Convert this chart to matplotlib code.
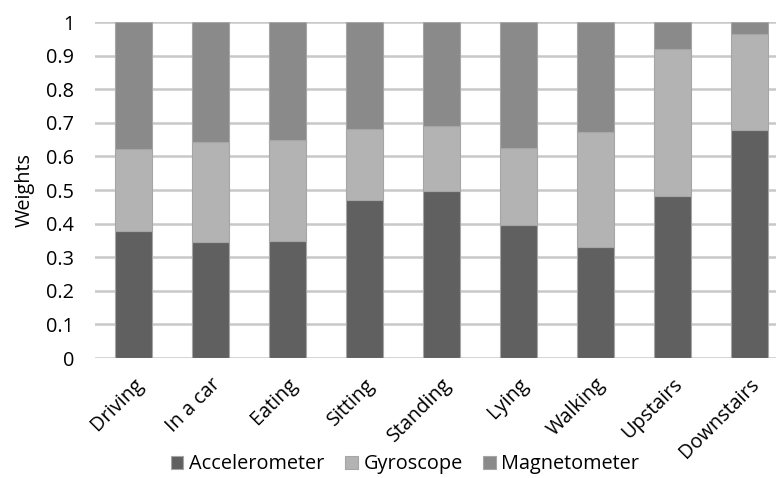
import matplotlib
matplotlib.use("Agg")
import matplotlib.pyplot as plt
import numpy as np

categories = ["Driving", "In a car", "Eating", "Sitting", "Standing", "Lying", "Walking", "Upstairs", "Downstairs"]
accelerometer = [0.378, 0.345, 0.349, 0.470, 0.498, 0.396, 0.329, 0.482, 0.679]
acc_plus_gyro = [0.623, 0.642, 0.649, 0.682, 0.689, 0.626, 0.672, 0.921, 0.964]
gyroscope = [c - a for a, c in zip(accelerometer, acc_plus_gyro)]
magnetometer = [1 - c for c in acc_plus_gyro]
yticks = [0, 0.1, 0.2, 0.3, 0.4, 0.5, 0.6, 0.7, 0.8, 0.9, 1]

plt.rcParams['font.family'] = ['Open Sans', 'DejaVu Sans']

fig = plt.figure(figsize=(7.76, 4.78), dpi=100)
ax = fig.add_axes([95/776, 1-358/478, 1-95/776, (358-22)/478])

x = np.arange(len(categories))
w = 0.48
ec = '#a6a6a6'
ax.bar(x, accelerometer, w, color='#606060', edgecolor=ec, linewidth=0.8, label='Accelerometer', zorder=3)
ax.bar(x, gyroscope, w, bottom=accelerometer, color='#b3b3b3', edgecolor=ec, linewidth=0.8, label='Gyroscope', zorder=3)
ax.bar(x, magnetometer, w, bottom=acc_plus_gyro, color='#8a8a8a', edgecolor=ec, linewidth=0.8, label='Magnetometer', zorder=3)

fs = 14.3
ax.set_xlim(-0.5, -0.5 + 681/77)
ax.set_ylim(0, 1)
ax.set_yticks(yticks)
ax.set_yticklabels([f"{t:g}" for t in yticks], fontsize=fs)
ax.set_xticks(x)
ax.set_xticklabels(categories, rotation=45, ha='right', rotation_mode='anchor', fontsize=fs)
ax.tick_params(axis='y', length=0, pad=15)
ax.tick_params(axis='x', length=0, pad=12)
ax.yaxis.grid(True, color='#c8c8c8', linewidth=1.8, zorder=0)
for s in ax.spines.values():
    s.set_visible(False)
ax.set_ylabel("Weights", fontsize=fs, labelpad=8)

fig.legend(loc='lower center', bbox_to_anchor=(405/776, -0.03), ncol=3, frameon=False,
           fontsize=fs, handlelength=0.65, handleheight=0.65, handletextpad=0.3, columnspacing=1.0)

fig.savefig("out.png", dpi=100)
